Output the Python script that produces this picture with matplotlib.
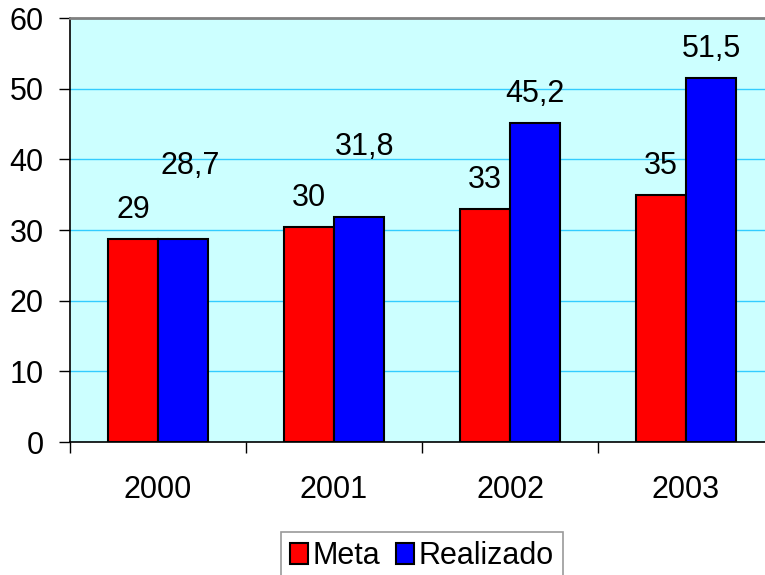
import matplotlib
matplotlib.use("Agg")
import matplotlib.pyplot as plt
import numpy as np

categories = ["2000", "2001", "2002", "2003"]
meta = [28.7, 30.4, 33.0, 35.0]
realizado = [28.7, 31.8, 45.2, 51.5]
yticks = [0, 10, 20, 30, 40, 50, 60]

plt.rcParams['font.family'] = ['Liberation Sans', 'DejaVu Sans']
FS = 22

fig = plt.figure(figsize=(7.65, 5.75), dpi=100)
ax = fig.add_axes([70/765, 1-442/575, 704/765, 424/575])
ax.set_facecolor('#CCFFFF')

x = np.arange(len(categories))
w = 0.285
b1 = ax.bar(x - w/2, meta, w, color='#FF0000', edgecolor='black', linewidth=1.5, label='Meta', zorder=3)
b2 = ax.bar(x + w/2, realizado, w, color='#0000FF', edgecolor='black', linewidth=1.5, label='Realizado', zorder=3)

ax.set_xlim(-0.5, len(categories) - 0.5)
ax.set_ylim(0, 60)
ax.set_yticks(yticks)
ax.set_yticklabels([str(v) for v in yticks], fontsize=FS)
ax.yaxis.grid(True, color='#33CCFF', linewidth=1, zorder=0)
ax.set_axisbelow(True)

ax.set_xticks(x)
ax.set_xticklabels(categories, fontsize=FS)
ax.tick_params(axis='x', which='major', length=0, pad=24)
ax.set_xticks(np.arange(len(categories)) - 0.5, minor=True)
ax.tick_params(axis='x', which='minor', length=8, width=1, direction='out')
ax.tick_params(axis='y', length=8, width=1, pad=11)

ax.spines['top'].set_color('#808080')
ax.spines['top'].set_linewidth(2)
ax.spines['right'].set_visible(False)
ax.spines['left'].set_linewidth(1.2)
ax.spines['bottom'].set_linewidth(1.2)

# data labels (offsets in points)
for i, v in enumerate(meta):
    ax.annotate(f"{v:.0f}", (x[i] - w/2, v), xytext=(0, 15), textcoords='offset points',
                ha='center', va='baseline', fontsize=FS, zorder=4)
real_off = [(5, 47), (4, 45), (0, 15), (0, 15)]
for i, v in enumerate(realizado):
    dx, dy = real_off[i]
    ax.annotate(f"{v:.1f}".replace('.', ','), (x[i] + w/2, v), xytext=(dx, dy),
                textcoords='offset points', ha='center', va='baseline', fontsize=FS, zorder=4)

leg = fig.legend(handles=[b1, b2], loc='upper center', bbox_to_anchor=(422/765, 1-532/575),
                 ncol=2, fontsize=FS, frameon=True, fancybox=False, handlelength=0.6,
                 handleheight=0.7, handletextpad=0.15, columnspacing=0.5, borderpad=0.3,
                 borderaxespad=0)
leg.get_frame().set_edgecolor('#808080')
leg.get_frame().set_linewidth(1.2)

fig.savefig('out.png', dpi=100)
